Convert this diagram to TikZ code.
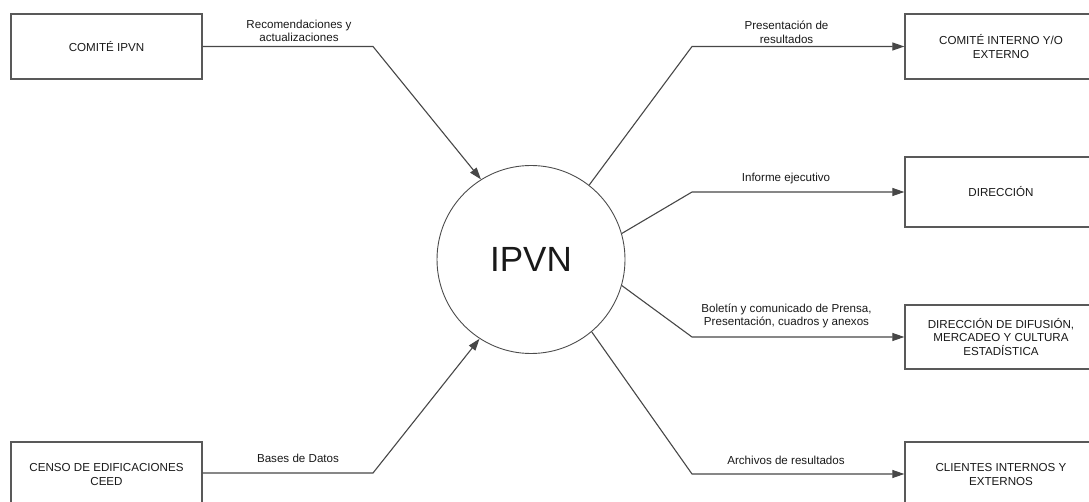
\documentclass[tikz,border=0pt]{standalone}
\usepackage{fontspec}
\setmainfont{Liberation Sans}
\usetikzlibrary{arrows.meta}

\begin{document}
\begin{tikzpicture}[x=1pt,y=-1pt,
  every node/.style={font=\fontsize{11.6}{13.5}\selectfont, text=black!90},
  entity/.style={draw=black!65, line width=1.3pt, fill=white,
    minimum width=191pt, align=center, inner sep=0pt},
  proc/.style={circle, draw=black!70, line width=0.9pt, minimum size=188pt,
    inner sep=0pt, font=\fontsize{35}{40}\selectfont},
  flow/.style={draw=black!72, line width=1.1pt,
    -{Triangle[length=12pt,width=8pt]}},
  flowlabel/.style={align=center, inner sep=0pt}]

\useasboundingbox (0,0) rectangle (1089,502);

% central process
\node[proc] (c) at (531,259.5) {IPVN};

% external entities on the left
\node[entity, minimum height=65pt] (cip) at (106.5,46.5) {COMITÉ IPVN};
\node[entity, minimum height=65pt] (censo) at (106.5,474.5)
  {CENSO DE EDIFICACIONES\\CEED};

% external entities on the right
\node[entity, minimum width=192pt, minimum height=65pt] (cie) at (1001,46.5)
  {COMITÉ INTERNO Y/O\\EXTERNO};
\node[entity, minimum width=192pt, minimum height=70pt] (dir) at (1001,192)
  {DIRECCIÓN};
\node[entity, minimum width=192pt, minimum height=64pt] (dif) at (1001,337)
  {DIRECCIÓN DE DIFUSIÓN,\\MERCADEO Y CULTURA\\ESTADÍSTICA};
\node[entity, minimum width=192pt, minimum height=65pt] (cli) at (1001,474.5)
  {CLIENTES INTERNOS Y\\EXTERNOS};

% bend points of the flows
\coordinate (k1) at (373,46.5);
\coordinate (k2) at (373,473);
\coordinate (r1) at (692,46.5);
\coordinate (r2) at (692,192);
\coordinate (r3) at (692,337);
\coordinate (r4) at (692,474);

% incoming flows
\draw[flow] (cip.east) -- (k1) -- (c.122);
\draw[flow] (censo.east |- k2) -- (k2) -- (c.-123.4);

% outgoing flows
\draw[flow] (c.52.4) -- (r1) -- (cie.west);
\draw[flow] (c.16.5) -- (r2) -- (dir.west);
\draw[flow] (c.-16.5) -- (r3) -- (dif.west);
\draw[flow] (c.-50.6) -- (r4) -- (cli.west |- r4);

% flow labels
\node[flowlabel] (l1) at (299,31) {Recomendaciones y\\actualizaciones};
\node[flowlabel] (l2) at (298,458.5) {Bases de Datos};
\node[flowlabel] (l3) at (786.5,32.5) {Presentación de\\resultados};
\node[flowlabel] (l4) at (786,179) {Informe ejecutivo};
\node[flowlabel] (l5) at (786.5,316) {Boletín y comunicado de Prensa,\\Presentación, cuadros y anexos};
\node[flowlabel] (l6) at (786,460) {Archivos de resultados};

\end{tikzpicture}
\end{document}
